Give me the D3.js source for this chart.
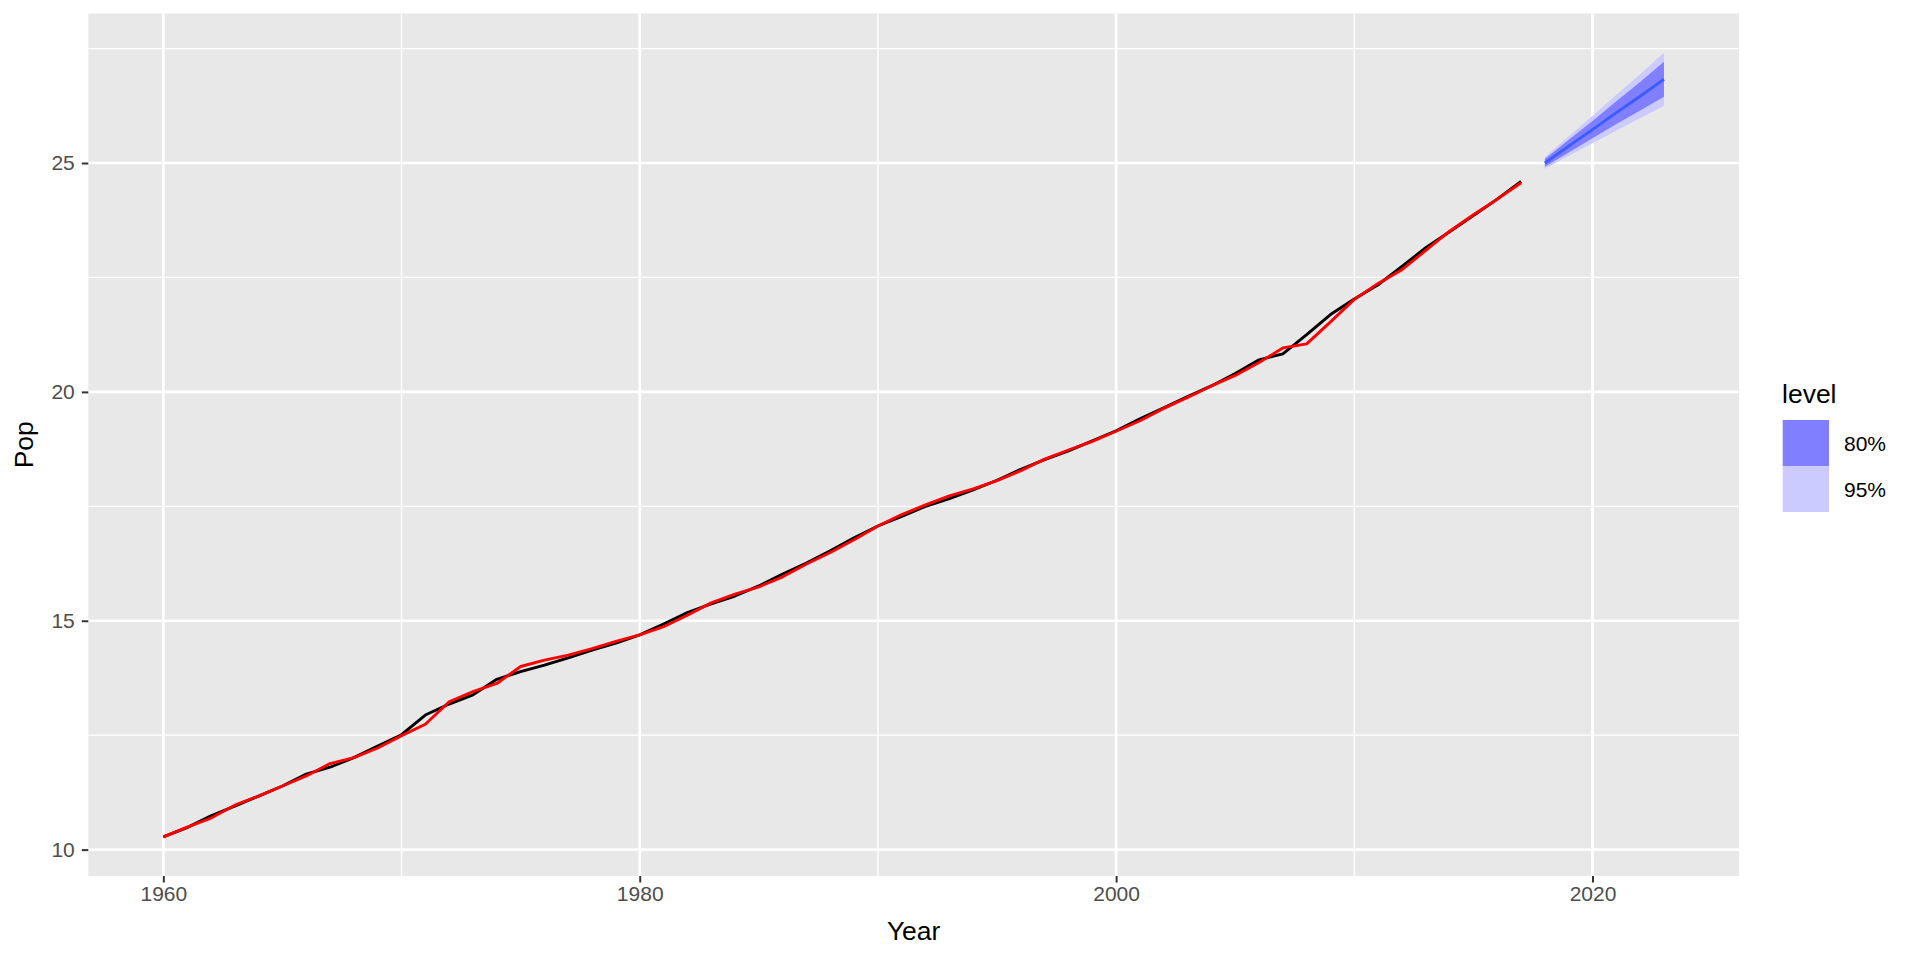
<!DOCTYPE html>
<html>
<head>
<meta charset="utf-8">
<script src="https://cdn.jsdelivr.net/npm/d3@7"></script>
<style>
  html, body { margin: 0; padding: 0; background: #ffffff; }
  svg { display: block; font-family: "Liberation Sans", Arial, Helvetica, sans-serif; }
</style>
</head>
<body>
<svg id="chart" width="1920" height="960"></svg>
<script>
// ---------------- data ----------------
const years = [1960,1961,1962,1963,1964,1965,1966,1967,1968,1969,
               1970,1971,1972,1973,1974,1975,1976,1977,1978,1979,
               1980,1981,1982,1983,1984,1985,1986,1987,1988,1989,
               1990,1991,1992,1993,1994,1995,1996,1997,1998,1999,
               2000,2001,2002,2003,2004,2005,2006,2007,2008,2009,
               2010,2011,2012,2013,2014,2015,2016,2017];
const actualPop = [10.28,10.48,10.74,10.95,11.17,11.39,11.65,11.80,12.01,12.26,
                   12.51,12.94,13.18,13.38,13.72,13.89,14.03,14.19,14.36,14.51,
                   14.69,14.93,15.18,15.37,15.54,15.76,16.02,16.26,16.53,16.81,
                   17.07,17.28,17.50,17.67,17.86,18.07,18.31,18.52,18.71,18.93,
                   19.15,19.41,19.65,19.90,20.13,20.40,20.70,20.83,21.25,21.69,
                   22.03,22.34,22.74,23.15,23.50,23.85,24.21,24.60];
const fittedPop = [10.28,10.49,10.69,10.97,11.17,11.39,11.61,11.88,12.01,12.22,
                   12.49,12.74,13.23,13.45,13.63,14.00,14.14,14.25,14.39,14.55,
                   14.69,14.87,15.12,15.39,15.58,15.74,15.96,16.24,16.49,16.77,
                   17.07,17.32,17.53,17.73,17.88,18.06,18.28,18.53,18.73,18.92,
                   19.14,19.37,19.64,19.88,20.13,20.36,20.64,20.96,21.05,21.53,
                   22.02,22.37,22.67,23.09,23.51,23.87,24.21,24.57];
const fcYears = [2018,2019,2020,2021,2022,2023];
const fcMean  = [25.00,25.37,25.73,26.10,26.46,26.83];
const fcLo80  = [24.92,25.23,25.54,25.85,26.15,26.45];
const fcHi80  = [25.09,25.51,25.92,26.35,26.77,27.21];
const fcLo95  = [24.87,25.16,25.43,25.71,25.98,26.25];
const fcHi95  = [25.13,25.58,26.03,26.49,26.94,27.41];

const xMajorTicks = [1960,1980,2000,2020];
const xMinorTicks = [1970,1990,2010];
const yMajorTicks = [10,15,20,25];
const yMinorTicks = [12.5,17.5,22.5,27.5];
const legendLevels = ["80%","95%"];
const legendColors = ["#7f7fff","#cbcbff"];

// ---------------- layout ----------------
const panel = {left: 88.3, right: 1739, top: 13.5, bottom: 876};
const svg = d3.select("#chart");

function expand(lo, hi) { const r = hi - lo; return [lo - 0.05 * r, hi + 0.05 * r]; }

const xMin = d3.min(years), xMax = d3.max(fcYears);
const yMin = d3.min([d3.min(actualPop), d3.min(fittedPop), d3.min(fcLo95)]);
const yMax = d3.max([d3.max(actualPop), d3.max(fittedPop), d3.max(fcHi95)]);

const x = d3.scaleLinear().domain(expand(xMin, xMax)).range([panel.left, panel.right]);
const y = d3.scaleLinear().domain(expand(yMin, yMax)).range([panel.bottom, panel.top]);

// panel background
svg.append("rect")
  .attr("x", panel.left).attr("y", panel.top)
  .attr("width", panel.right - panel.left).attr("height", panel.bottom - panel.top)
  .attr("fill", "#e8e8e8");

const grid = svg.append("g");
// minor grid
grid.selectAll(".ymin").data(yMinorTicks).enter().append("line")
  .attr("x1", panel.left).attr("x2", panel.right)
  .attr("y1", d => y(d)).attr("y2", d => y(d))
  .attr("stroke", "#ffffff").attr("stroke-width", 1.35);
grid.selectAll(".xmin").data(xMinorTicks).enter().append("line")
  .attr("y1", panel.top).attr("y2", panel.bottom)
  .attr("x1", d => x(d)).attr("x2", d => x(d))
  .attr("stroke", "#ffffff").attr("stroke-width", 1.35);
// major grid
grid.selectAll(".ymaj").data(yMajorTicks).enter().append("line")
  .attr("x1", panel.left).attr("x2", panel.right)
  .attr("y1", d => y(d)).attr("y2", d => y(d))
  .attr("stroke", "#ffffff").attr("stroke-width", 2.7);
grid.selectAll(".xmaj").data(xMajorTicks).enter().append("line")
  .attr("y1", panel.top).attr("y2", panel.bottom)
  .attr("x1", d => x(d)).attr("x2", d => x(d))
  .attr("stroke", "#ffffff").attr("stroke-width", 2.7);

// forecast ribbons
const fc = fcYears.map((yr, i) => ({yr, m: fcMean[i], lo80: fcLo80[i], hi80: fcHi80[i], lo95: fcLo95[i], hi95: fcHi95[i]}));
svg.append("path").datum(fc)
  .attr("d", d3.area().x(d => x(d.yr)).y0(d => y(d.lo95)).y1(d => y(d.hi95)))
  .attr("fill", legendColors[1]);
svg.append("path").datum(fc)
  .attr("d", d3.area().x(d => x(d.yr)).y0(d => y(d.lo80)).y1(d => y(d.hi80)))
  .attr("fill", legendColors[0]);
svg.append("path").datum(fc)
  .attr("d", d3.line().x(d => x(d.yr)).y(d => y(d.m)))
  .attr("fill", "none").attr("stroke", "#3d5cff").attr("stroke-width", 2.9)
  .attr("stroke-linejoin", "round");

// actual + fitted
const actual = years.map((yr, i) => ({yr, v: actualPop[i]}));
const fitted = years.map((yr, i) => ({yr, v: fittedPop[i]}));
const line = d3.line().x(d => x(d.yr)).y(d => y(d.v));
svg.append("path").datum(actual).attr("d", line)
  .attr("fill", "none").attr("stroke", "#000000").attr("stroke-width", 2.9)
  .attr("stroke-linejoin", "round");
svg.append("path").datum(fitted).attr("d", line)
  .attr("fill", "none").attr("stroke", "#ff0000").attr("stroke-width", 2.9)
  .attr("stroke-linejoin", "round");

// axes
const xAxis = d3.axisBottom(x).tickValues(xMajorTicks).tickFormat(d3.format("d")).tickSize(6.5).tickPadding(4);
const gx = svg.append("g").attr("transform", `translate(0,${panel.bottom})`).call(xAxis);
gx.select(".domain").remove();
gx.selectAll(".tick line").attr("stroke", "#333333").attr("stroke-width", 2);
gx.selectAll(".tick text").attr("fill", "#4d4d4d").attr("font-size", 21)
  .attr("font-family", "Liberation Sans, Arial, sans-serif");

const yAxis = d3.axisLeft(y).tickValues(yMajorTicks).tickFormat(d3.format("d")).tickSize(6.5).tickPadding(7);
const gy = svg.append("g").attr("transform", `translate(${panel.left},0)`).call(yAxis);
gy.select(".domain").remove();
gy.selectAll(".tick line").attr("stroke", "#333333").attr("stroke-width", 2);
gy.selectAll(".tick text").attr("fill", "#4d4d4d").attr("font-size", 21)
  .attr("font-family", "Liberation Sans, Arial, sans-serif");

// axis titles
svg.append("text")
  .attr("x", (panel.left + panel.right) / 2).attr("y", 940)
  .attr("text-anchor", "middle").attr("font-size", 26.5).attr("fill", "#000")
  .text("Year");
svg.append("text")
  .attr("transform", `translate(33,${(panel.top + panel.bottom) / 2}) rotate(-90)`)
  .attr("text-anchor", "middle").attr("font-size", 26.5).attr("fill", "#000")
  .text("Pop");

// legend
const lg = svg.append("g");
lg.append("text").attr("x", 1782).attr("y", 403)
  .attr("font-size", 26.5).attr("fill", "#000").text("level");
const keyH = 46, keyW = 46.3, keyTop = 420;
lg.selectAll(".key").data(legendLevels).enter().append("rect")
  .attr("x", 1782.7).attr("y", (d, i) => keyTop + i * keyH)
  .attr("width", keyW).attr("height", keyH)
  .attr("fill", (d, i) => legendColors[i]);
lg.selectAll(".lab").data(legendLevels).enter().append("text")
  .attr("x", 1844).attr("y", (d, i) => keyTop + i * keyH + keyH / 2)
  .attr("dominant-baseline", "central")
  .attr("font-size", 21).attr("fill", "#000").text(d => d);
</script>
</body>
</html>
